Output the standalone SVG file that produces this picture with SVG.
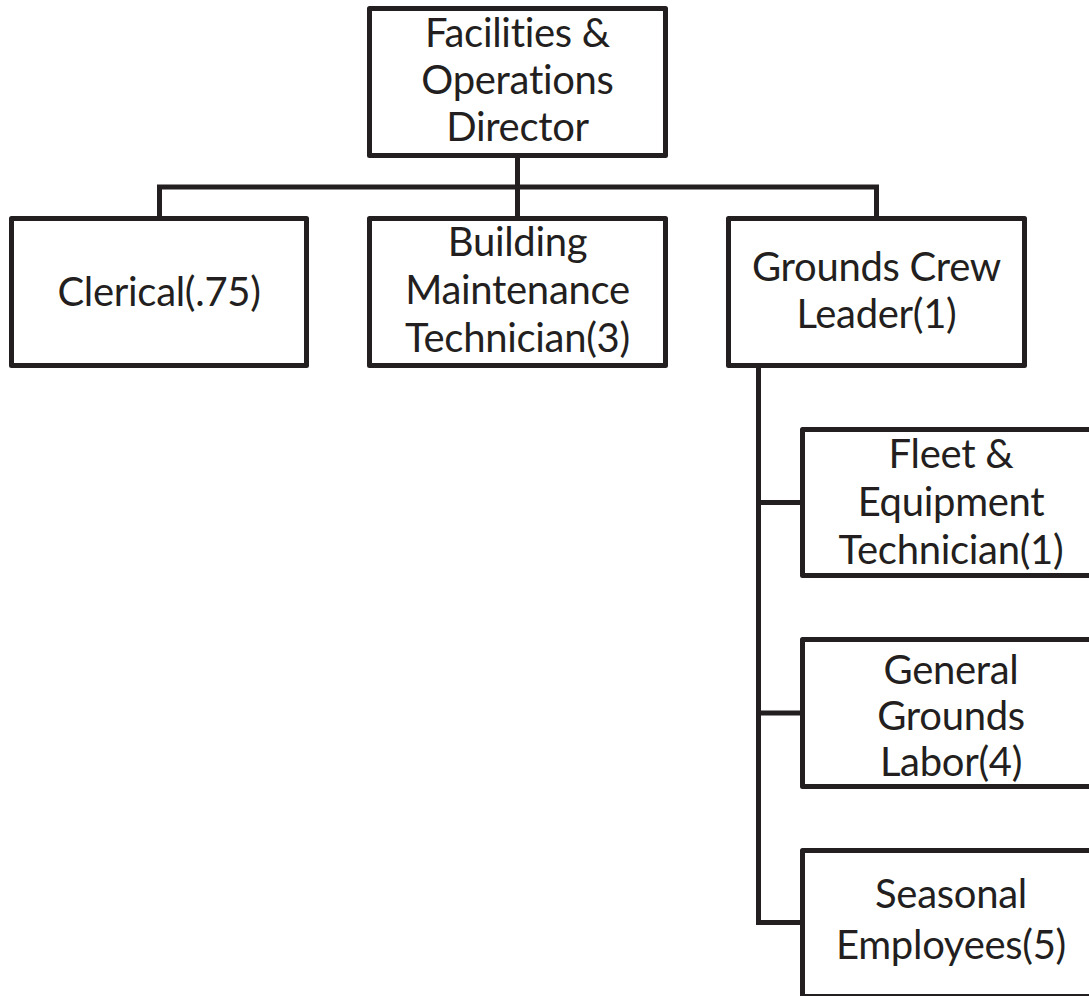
<svg xmlns="http://www.w3.org/2000/svg" width="1089" height="996" viewBox="0 0 1089 996">
  <style>
    .box { fill: #ffffff; stroke: #231f20; stroke-width: 5; stroke-linejoin: round; }
    .lbl { font-family: Lato, "Open Sans", "Liberation Sans", sans-serif; font-size: 40px; letter-spacing: -0.3px; font-variant-ligatures: none; fill: #231f20; text-anchor: middle; }
    .wire { fill: none; stroke: #231f20; stroke-width: 5; stroke-linejoin: miter; stroke-linecap: butt; }
  </style>
  <rect width="1089" height="996" fill="#ffffff"/>

  <g id="connectors">
    <path class="wire" d="M517.5 155 V187"/>
    <path class="wire" d="M159.5 218 V187 H876.5 V218"/>
    <path class="wire" d="M517.5 187 V218"/>
    <path class="wire" d="M758.5 365 V922.5 H802.5"/>
    <path class="wire" d="M758.5 502.5 H802.5"/>
    <path class="wire" d="M758.5 713 H802.5"/>
  </g>

  <g id="director">
    <rect class="box" x="369.5" y="8.5" width="296" height="147"/>
    <text class="lbl" x="517.5" y="47">Facilities &amp;</text>
    <text class="lbl" x="517.5" y="94">Operations</text>
    <text class="lbl" x="517.5" y="141">Director</text>
  </g>

  <g id="clerical">
    <rect class="box" x="11.5" y="218.5" width="295" height="147"/>
    <text class="lbl" x="159" y="306">Clerical(.75)</text>
  </g>

  <g id="building">
    <rect class="box" x="369.5" y="218.5" width="296" height="147"/>
    <text class="lbl" x="517.5" y="256">Building</text>
    <text class="lbl" x="517.5" y="304">Maintenance</text>
    <text class="lbl" x="517.5" y="352">Technician(3)</text>
  </g>

  <g id="grounds-leader">
    <rect class="box" x="728.5" y="218.5" width="296" height="147"/>
    <text class="lbl" x="876.5" y="281">Grounds Crew</text>
    <text class="lbl" x="876.5" y="328">Leader(1)</text>
  </g>

  <g id="fleet">
    <rect class="box" x="802.5" y="429.5" width="298" height="146"/>
    <text class="lbl" x="951" y="468">Fleet &amp;</text>
    <text class="lbl" x="951" y="516">Equipment</text>
    <text class="lbl" x="951" y="564">Technician(1)</text>
  </g>

  <g id="general-labor">
    <rect class="box" x="802.5" y="639.5" width="298" height="147"/>
    <text class="lbl" x="951" y="684">General</text>
    <text class="lbl" x="951" y="730">Grounds</text>
    <text class="lbl" x="951" y="776">Labor(4)</text>
  </g>

  <g id="seasonal">
    <rect class="box" x="802.5" y="850.5" width="298" height="146"/>
    <text class="lbl" x="951" y="908">Seasonal</text>
    <text class="lbl" x="951" y="959">Employees(5)</text>
  </g>
</svg>
